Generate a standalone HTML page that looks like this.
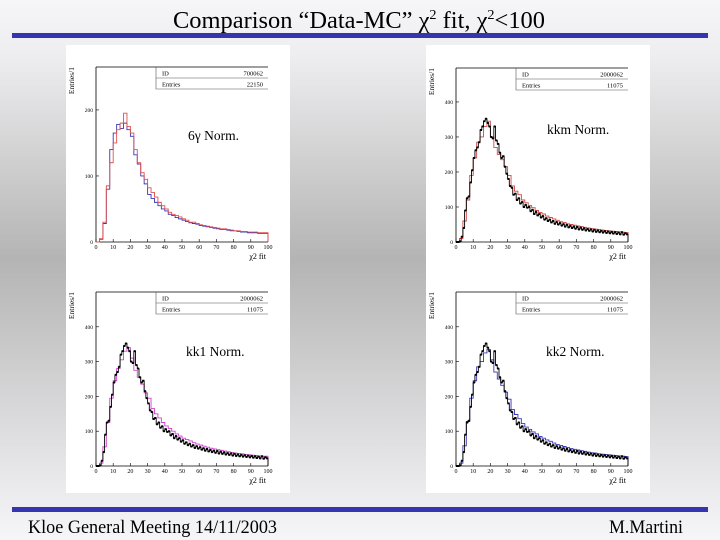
<!DOCTYPE html>
<html><head><meta charset="utf-8">
<style>
html,body{margin:0;padding:0;width:720px;height:540px;overflow:hidden;}
svg{display:block;font-family:"Liberation Serif",serif;}
</style></head>
<body>
<svg id="slide" width="720" height="540" viewBox="0 0 720 540" xmlns="http://www.w3.org/2000/svg">
<defs>
<linearGradient id="bg" x1="0" y1="0" x2="0" y2="1">
<stop offset="0" stop-color="#f6f6f8"/>
<stop offset="0.1" stop-color="#eeeef0"/>
<stop offset="0.48" stop-color="#b4b4b4"/>
<stop offset="0.85" stop-color="#e4e4e6"/>
<stop offset="1" stop-color="#f6f6f8"/>
</linearGradient>
</defs>
<rect x="0" y="0" width="720" height="540" fill="url(#bg)"/>
<text x="359" y="28" font-size="24" text-anchor="middle" fill="#000" textLength="372" lengthAdjust="spacingAndGlyphs">Comparison “Data-MC” χ<tspan font-size="14" dy="-9">2</tspan><tspan dy="9"> fit, χ</tspan><tspan font-size="14" dy="-9">2</tspan><tspan dy="9">&lt;100</tspan></text>
<rect x="12" y="33" width="696" height="5" fill="#3535b0"/>
<rect x="12" y="507" width="696" height="5" fill="#3535b0"/>
<text x="28" y="533" font-size="19" fill="#000" textLength="249" lengthAdjust="spacingAndGlyphs">Kloe General Meeting 14/11/2003</text>
<text x="683" y="533" font-size="19" text-anchor="end" fill="#000" textLength="74" lengthAdjust="spacingAndGlyphs">M.Martini</text>
<rect x="66" y="45" width="224" height="448" fill="#fff"/>
<rect x="426" y="45" width="224" height="448" fill="#fff"/>
<g id="charts"></g>
</svg>
<script>
// Data histogram (black points), 100 bins of width 1, chi2 0..100
const dataKK = [0,0,2,15,40,90,125,130,170,205,
240,262,270,285,320,330,345,352,340,330,
300,296,330,290,280,255,240,245,215,195,
180,160,155,135,138,120,125,110,114,100,
106,98,100,88,92,80,86,76,80,70,
74,64,68,60,64,56,60,52,57,50,
54,47,51,44,49,42,46,40,44,38,
43,36,41,35,39,33,37,32,36,30,
35,29,33,28,32,27,31,26,30,25,
29,24,28,23,27,22,28,21,25,22];
// MC histograms, 50 bins of width 2
const mcKkm = [0,10,60,120,190,240,285,300,330,345,
300,270,250,235,215,190,160,145,135,120,
112,104,98,90,84,80,74,70,66,62,
58,56,52,50,48,46,44,42,40,38,
37,36,34,33,32,31,30,29,28,27];
const mcKk1 = [0,8,55,125,195,245,280,305,330,340,
310,275,255,235,210,195,165,150,138,125,
115,108,100,92,86,80,76,72,67,63,
60,57,54,51,49,47,45,43,41,39,
37,36,35,33,32,31,30,29,28,28];
const mcKk2 = [0,8,58,128,195,245,285,300,325,335,
305,270,250,232,212,192,162,148,136,122,
112,105,98,92,85,80,75,71,66,62,
59,56,53,50,48,46,44,42,40,38,
37,35,34,33,32,31,30,29,28,27];
const sixRed = [0,5,30,85,120,150,170,180,195,175,
165,140,120,105,95,82,75,68,60,55,
50,45,42,40,38,35,33,30,30,28,
26,25,24,23,22,21,20,20,19,18,
17,17,16,16,15,15,15,14,14,14];
const sixBlue = [0,4,28,80,140,165,178,172,180,170,
160,132,118,100,88,72,66,60,55,50,
47,42,40,37,35,33,31,29,28,27,
25,24,23,22,21,20,19,19,18,17,
17,16,15,15,14,14,14,13,13,13];
const xTicks = [0,10,20,30,40,50,60,70,80,90,100];
const yTicksKK = [0,100,200,300,400];
const yTicks6g = [0,100,200];

const NS = "http://www.w3.org/2000/svg";
const root = document.getElementById('charts');
function mk(tag, attrs, parent){
  const e = document.createElementNS(NS, tag);
  for (const k in attrs) e.setAttribute(k, attrs[k]);
  parent.appendChild(e);
  return e;
}
function stepPath(vals, binW, sx, sy){
  let d = "M" + sx(0) + "," + sy(0);
  vals.forEach((v,i)=>{
    d += " L" + sx(i*binW) + "," + sy(v) + " L" + sx((i+1)*binW) + "," + sy(v);
  });
  d += " L" + sx(vals.length*binW) + "," + sy(0);
  return d;
}
function panel(p){
  const g = mk('g', {}, root);
  
  
  const sx = v => p.x0 + (v/100)*(p.x1 - p.x0);
  const sy = v => p.y0 - (v/p.ymax)*(p.y0 - p.y1);
  const ax = mk('path', {d:`M${p.x0},${p.y1} L${p.x0},${p.y0} L${p.x1},${p.y0} M${p.x0},${p.y1} L${p.x1},${p.y1}`, stroke:'#000', 'stroke-width':0.8, fill:'none'}, g);
  
  
  xTicks.forEach(t=>{
    mk('line', {x1:sx(t), x2:sx(t), y1:p.y0, y2:p.y0-3, stroke:'#000', 'stroke-width':0.6}, g);
    const tl = mk('text', {x:sx(t), y:p.y0+7, 'font-size':6, 'text-anchor':'middle'}, g);
    tl.textContent = t;
    
    
  });
  p.yTicks.forEach(t=>{
    mk('line', {x1:p.x0, x2:p.x0+3, y1:sy(t), y2:sy(t), stroke:'#000', 'stroke-width':0.6}, g);
    const tl = mk('text', {x:p.x0-3, y:sy(t)+2, 'font-size':5.5, 'text-anchor':'end'}, g);
    tl.textContent = t;
    
    
  });
  const xt = mk('text', {x:p.x1-2, y:p.y0+17, 'font-size':8, 'text-anchor':'end'}, g);
  xt.textContent = 'χ2 fit';
  
  
  const yt = mk('text', {x:0, y:0, 'font-size':7.5, 'text-anchor':'end', transform:`translate(${p.x0-22},${p.y1}) rotate(-90)`}, g);
  yt.textContent = 'Entries/1';
  
  
  const sb = mk('path', {d:`M${p.x1-112},${p.y1} L${p.x1-112},${p.y1+22} L${p.x1},${p.y1+22} M${p.x1-112},${p.y1+11} L${p.x1},${p.y1+11}`, stroke:'#555', 'stroke-width':0.6, fill:'none'}, g);
  
  
  [['ID', p.id, 8.5], ['Entries', p.entries, 19.5]].forEach(r=>{
    const a = mk('text', {x:p.x1-106, y:p.y1+r[2], 'font-size':6.5}, g);
    a.textContent = r[0];
    
    
    const b = mk('text', {x:p.x1-5, y:p.y1+r[2], 'font-size':6.5, 'text-anchor':'end'}, g);
    b.textContent = r[1];
    
    
  });
  p.hists.forEach(h=>{
    const e = mk('path', {d:stepPath(h.vals, h.binW, sx, sy), stroke:h.color, 'stroke-width':0.9, fill:'none'}, g);
    
    
  });
  if (p.data){
    const e = mk('path', {d:stepPath(p.data, 1, sx, sy), stroke:'#000', 'stroke-width':0.9, fill:'none'}, g);
    
    
    p.data.forEach((v,i)=>{
      const c = mk('rect', {x:sx(i+0.5)-1, y:sy(v)-1, width:2, height:2, fill:'#000'}, g);
      
      
    });
  }
  const lab = mk('text', {x:p.lx, y:p.ly, 'font-size':13.5}, g);
  lab.textContent = p.label;
  
  
}
panel({name:'panel-6gamma', x0:96, x1:268, y0:242, y1:67, ymax:265, yTicks:yTicks6g, id:'700062', entries:'22150',
  hists:[{vals:sixBlue, binW:2, color:'#3838b8', name:'blue-histogram'},{vals:sixRed, binW:2, color:'#e05050', name:'red-histogram'}],
  data:null, label:'6γ Norm.', lx:188, ly:140});
panel({name:'panel-kkm', x0:456, x1:628, y0:242, y1:68, ymax:497, yTicks:yTicksKK, id:'2000062', entries:'11075',
  hists:[{vals:mcKkm, binW:2, color:'#d04848', name:'mc-kkm-histogram'}], data:dataKK, label:'kkm Norm.', lx:547, ly:134});
panel({name:'panel-kk1', x0:96, x1:268, y0:466, y1:292, ymax:500, yTicks:yTicksKK, id:'2000062', entries:'11075',
  hists:[{vals:mcKk1, binW:2, color:'#d040d0', name:'mc-kk1-histogram'}], data:dataKK, label:'kk1 Norm.', lx:186, ly:356});
panel({name:'panel-kk2', x0:456, x1:628, y0:466, y1:292, ymax:500, yTicks:yTicksKK, id:'2000062', entries:'11075',
  hists:[{vals:mcKk2, binW:2, color:'#3838b8', name:'mc-kk2-histogram'}], data:dataKK, label:'kk2 Norm.', lx:546, ly:356});
</script>
</body></html>
